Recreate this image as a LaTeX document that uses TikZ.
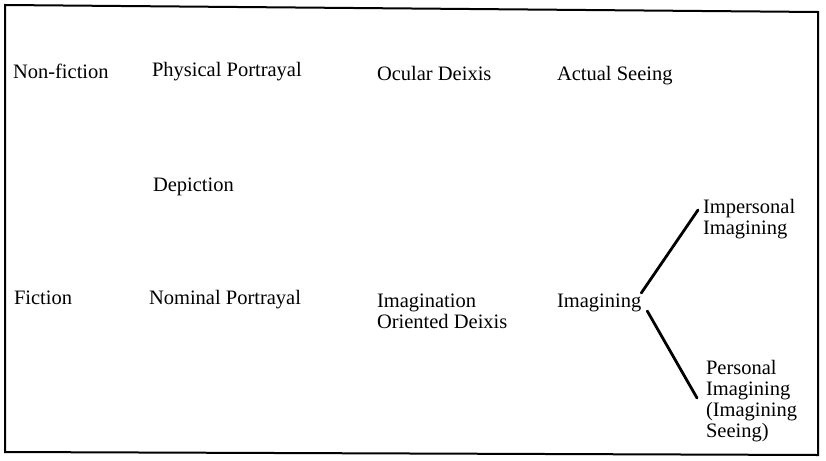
\documentclass[tikz,border=0pt]{standalone}
\usepackage{fontspec}
\setmainfont{Liberation Serif}
\usetikzlibrary{calc}
\begin{document}
\begin{tikzpicture}[x=1pt,y=-1pt,
  lbl/.style={inner sep=0pt, outer sep=0pt, anchor=base west, align=left,
    font=\fontsize{20.5pt}{21pt}\selectfont},
  branch/.style={line width=2.8pt, line cap=round},
  frame/.style={line width=2pt}]
\useasboundingbox (0,0) rectangle (826,460);
% frame
\coordinate (tl) at (5,5);
\coordinate (tr) at (818,12);
\coordinate (br) at (818,455);
\coordinate (bl) at (5,452);
\draw[frame] (tl) -- (tr) -- (br) -- (bl) -- cycle;
% row 1
\node[lbl] (nonfic) at (13,78) {Non-fiction};
\node[lbl] (phys) at (152,76) {Physical Portrayal};
\node[lbl] (ocular) at (377,80) {Ocular Deixis};
\node[lbl] (actual) at (557,80) {Actual Seeing};
% middle
\node[lbl] (depic) at (153,191) {Depiction};
% row 2 (multi-line nodes are placed by the baseline of their last line)
\node[lbl] (fic) at (14,304) {Fiction};
\node[lbl] (nom) at (149,304) {Nominal Portrayal};
\node[lbl] (iod) at (377,328) {Imagination\\Oriented Deixis};
\node[lbl] (img) at (557,307) {Imagining};
\node[lbl] (imp) at (703,234) {Impersonal\\Imagining};
\node[lbl] (pers) at (706,437) {Personal\\Imagining\\(Imagining\\Seeing)};
% branches
\draw[branch] ([shift={(0pt,14pt)}]img.base east) -- ([shift={(-5pt,24pt)}]imp.base west);
\draw[branch] ([shift={(6pt,-4pt)}]img.base east) -- ([shift={(-9pt,39pt)}]pers.base west);
\end{tikzpicture}
\end{document}
